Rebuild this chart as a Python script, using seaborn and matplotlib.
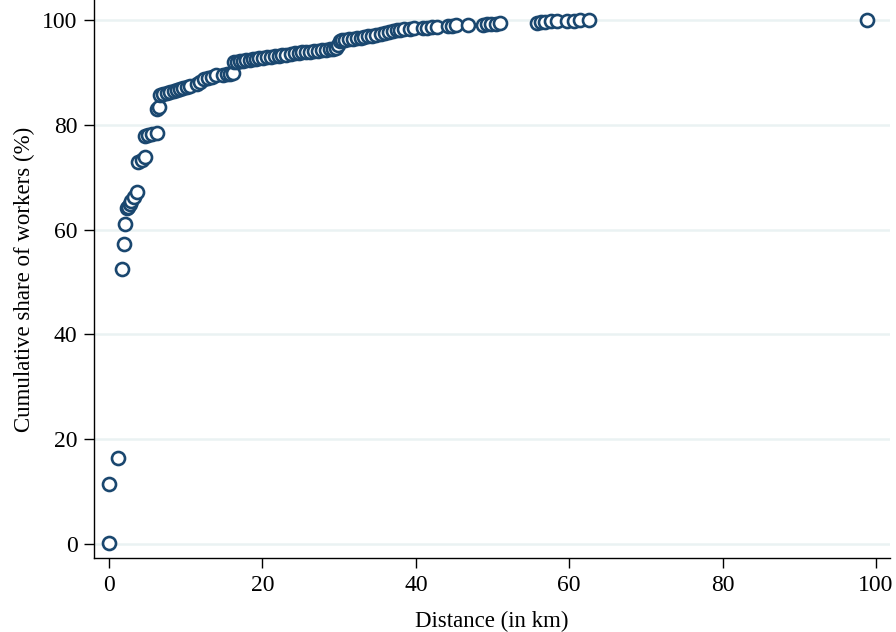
import numpy as np
import pandas as pd
import matplotlib
matplotlib.use("Agg")
import matplotlib.pyplot as plt
import seaborn as sns

# distance (km) and cumulative share of workers (%)
distance_km = [
    0.0, 0.0, 1.2, 1.7, 1.9, 2.1, 2.3, 2.5, 2.7, 2.9, 3.2, 3.6,
    3.8, 4.3, 4.7, 4.7, 5.1, 5.6, 6.3, 6.3, 6.5,
    6.6, 7.0, 7.5, 8.0, 8.4, 8.8, 9.2, 9.6, 10.1, 10.6, 11.4, 11.8,
    12.4, 12.9, 13.4, 14.0, 14.9, 15.4, 15.8, 16.1,
    16.3, 16.7, 17.1, 17.5, 17.9, 18.4, 18.8, 19.2, 19.6, 20.1, 20.6, 21.1,
    21.6, 22.1, 22.6, 23.1, 23.7, 24.2, 24.7, 25.2, 25.7, 26.2, 26.7, 27.3,
    27.8, 28.3, 28.8, 29.2, 29.6,
    29.9, 30.1, 30.4, 30.8, 31.3, 31.8, 32.3, 32.8, 33.3, 33.8, 34.3, 34.8,
    35.5, 36.0, 36.5, 37.0, 37.5, 38.0, 38.5, 39.2, 39.7, 40.9, 41.5, 42.1,
    42.7, 44.2, 44.7, 45.3, 46.8, 48.8, 49.3, 49.8, 50.4, 51.0,
    55.8, 56.3, 56.9, 57.6, 58.4, 59.7, 60.6, 61.4, 62.6, 98.8,
]
cum_share = [
    0.2, 11.4, 16.4, 52.4, 57.2, 61.0, 64.1, 64.4, 64.9, 65.5, 66.2, 67.1,
    72.9, 73.3, 73.9, 77.9, 78.1, 78.2, 78.4, 83.0, 83.4,
    85.6, 85.8, 86.0, 86.2, 86.4, 86.6, 86.8, 87.0, 87.2, 87.4, 87.8, 88.1,
    88.7, 89.0, 89.2, 89.4, 89.5, 89.6, 89.7, 89.9,
    91.9, 92.0, 92.1, 92.2, 92.3, 92.4, 92.5, 92.6, 92.7, 92.8, 92.9, 93.0,
    93.1, 93.2, 93.3, 93.4, 93.5, 93.6, 93.7, 93.8, 93.8, 93.9, 94.0, 94.1,
    94.2, 94.3, 94.4, 94.5, 94.7,
    95.3, 95.9, 96.1, 96.2, 96.3, 96.4, 96.5, 96.6, 96.8, 96.9, 97.0, 97.1,
    97.3, 97.5, 97.6, 97.8, 98.0, 98.1, 98.2, 98.3, 98.4, 98.5, 98.5, 98.6,
    98.7, 98.8, 98.9, 99.0, 99.0, 99.1, 99.2, 99.2, 99.3, 99.4,
    99.5, 99.6, 99.6, 99.7, 99.7, 99.8, 99.8, 99.9, 99.9, 100.0,
]
x_ticks = [0, 20, 40, 60, 80, 100]
y_ticks = [0, 20, 40, 60, 80, 100]

df = pd.DataFrame({"dist": distance_km, "share": cum_share})

sns.set_style("white", {"xtick.bottom": True, "ytick.left": True})
plt.rcParams["font.family"] = ["Liberation Serif", "DejaVu Serif"]
plt.rcParams["text.color"] = "black"
plt.rcParams["axes.labelcolor"] = "black"
plt.rcParams["xtick.color"] = "black"
plt.rcParams["ytick.color"] = "black"

fig = plt.figure(figsize=(8.96, 6.32), dpi=100)
ax = fig.add_axes([0.105, 0.117, 0.888, 0.883])

navy = "#1a476f"
sns.scatterplot(data=df, x="dist", y="share", ax=ax, s=88, marker="o",
                facecolor="white", edgecolor=navy, linewidth=1.9, zorder=3)

ax.set_xlim(-1.96, 101.8)
ax.set_ylim(-2.67, 103.8)
ax.set_xticks(x_ticks)
ax.set_yticks(y_ticks)
for y in y_ticks:
    ax.axhline(y, color="#eaf2f3", lw=1.8, zorder=1)

for side in ["top", "right"]:
    ax.spines[side].set_visible(False)
for side in ["left", "bottom"]:
    ax.spines[side].set_color("black")
    ax.spines[side].set_linewidth(1.0)

ax.tick_params(axis="both", direction="out", length=7, width=1.0,
               color="black", labelsize=17, pad=5)
ax.set_xlabel("Distance (in km)", fontsize=16.5, labelpad=11)
ax.set_ylabel("Cumulative share of workers (%)", fontsize=16.5, labelpad=5)

fig.savefig("out.png", dpi=100)
